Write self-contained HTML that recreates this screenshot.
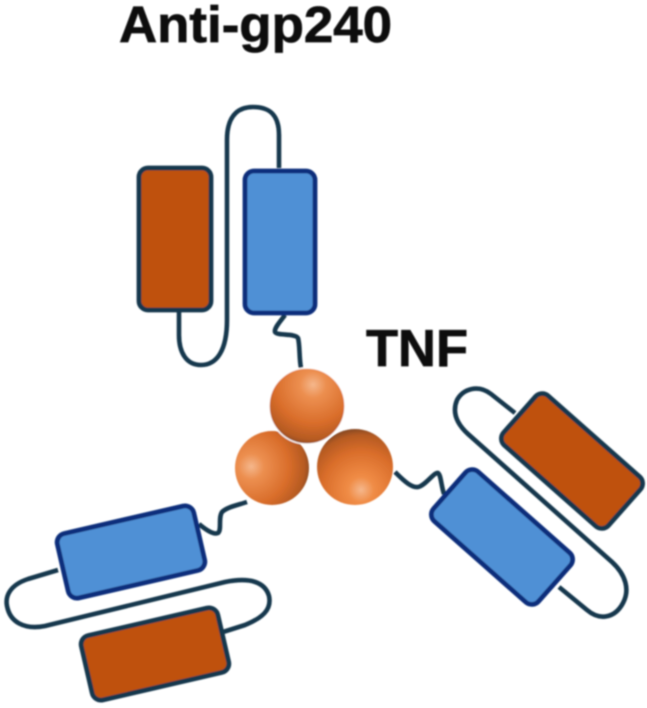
<!DOCTYPE html>
<html>
<head>
<meta charset="utf-8">
<style>
html,body{margin:0;padding:0;background:#fff;width:647px;height:708px;overflow:hidden}
svg{display:block}
text{font-family:"Liberation Sans",sans-serif;font-weight:bold;fill:#0a0a0a;stroke:#0a0a0a;stroke-width:0.7}
</style>
</head>
<body>
<svg width="647" height="708" viewBox="0 0 647 708" xmlns="http://www.w3.org/2000/svg">
<defs>
<filter id="b" x="-5%" y="-5%" width="110%" height="110%"><feGaussianBlur stdDeviation="0.9"/></filter>
<radialGradient id="s1" cx="0.58" cy="0.22" r="0.85">
<stop offset="0" stop-color="#f5b78c"/><stop offset="0.2" stop-color="#ec8f50"/><stop offset="0.6" stop-color="#d96d2a"/><stop offset="0.85" stop-color="#b55a22"/><stop offset="1" stop-color="#6e4026"/>
</radialGradient>
<radialGradient id="s2" cx="0.22" cy="0.48" r="0.85">
<stop offset="0" stop-color="#f5b78c"/><stop offset="0.2" stop-color="#ec8f50"/><stop offset="0.6" stop-color="#d96d2a"/><stop offset="0.85" stop-color="#b55a22"/><stop offset="1" stop-color="#6e4026"/>
</radialGradient>
<radialGradient id="s3" cx="0.58" cy="0.8" r="0.85">
<stop offset="0" stop-color="#f5b78c"/><stop offset="0.2" stop-color="#f08c46"/><stop offset="0.6" stop-color="#d96d2a"/><stop offset="0.85" stop-color="#b55a22"/><stop offset="1" stop-color="#6e4026"/>
</radialGradient>
</defs>
<g filter="url(#b)">
<text x="119" y="42" font-size="51" textLength="273" lengthAdjust="spacingAndGlyphs">Anti-gp240</text>
<text x="366" y="366" font-size="52" textLength="102" lengthAdjust="spacingAndGlyphs">TNF</text>

<g fill="none" stroke="#12384e" stroke-width="4.6" stroke-linejoin="round">
<path d="M279 168V135C279 115 270 107 253 107C236 107 227 118 227 140V320C227 350 217 365 201 365C186 365 179 352 179 335V310"/>
<path d="M285 315C280 322 274 328 275 332C277 336 295 333 298 338C300 345 299 358 301 368"/>
<path d="M58 570L28 579C10 585 5 596 7 606C10 622 24 630 45 626L225 582C250 577 265 582 269 596C272 610 262 618 245 625L223 632"/>
<path d="M199 524C206 530 214 535 218 533C222 530 218 518 222 512C227 507 238 505 247 502"/>
<path d="M395 472C405 482 412 488 418 487C425 486 434 472 438 473C441 475 441 485 444 494"/>
<path d="M515 413L491 394C478 384 463 389 457 400C452 412 456 423 468 434L612 562C626 575 630 590 623 603C615 618 600 621 587 610L559 587"/>
</g>

<rect x="139" y="168" width="72" height="142" rx="9" fill="#bf5110" stroke="#12384e" stroke-width="4.8"/>
<rect x="245" y="171" width="70" height="142" rx="9" fill="#4f90d5" stroke="#0b2f7c" stroke-width="4.8"/>

<g transform="translate(131 552) rotate(-13)">
<rect x="-70" y="-33" width="140" height="66" rx="9" fill="#4f90d5" stroke="#0b2f7c" stroke-width="4.8"/>
</g>
<g transform="translate(155 654) rotate(-13)">
<rect x="-70" y="-33" width="140" height="66" rx="9" fill="#bf5110" stroke="#12384e" stroke-width="4.8"/>
</g>
<g transform="translate(502 537) rotate(41.5)">
<rect x="-70" y="-33" width="140" height="66" rx="9" fill="#4f90d5" stroke="#0b2f7c" stroke-width="4.8"/>
</g>
<g transform="translate(572 461) rotate(41.5)">
<rect x="-70" y="-33" width="140" height="66" rx="9" fill="#bf5110" stroke="#12384e" stroke-width="4.8"/>
</g>

<circle cx="272" cy="468" r="37" fill="url(#s2)"/>
<circle cx="355" cy="467" r="38" fill="url(#s3)"/>
<circle cx="307" cy="406" r="38" fill="url(#s1)" stroke="#fff" stroke-width="1.5"/>
</g>
</svg>
</body>
</html>
